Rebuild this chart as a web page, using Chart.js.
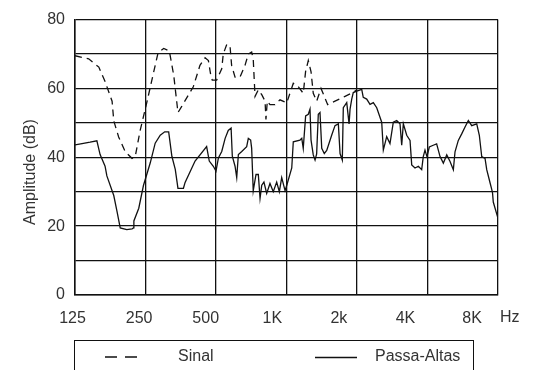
<!DOCTYPE html>
<html>
<head>
<meta charset="utf-8">
<script src="https://cdn.jsdelivr.net/npm/chart.js@4/dist/chart.umd.min.js"></script>
<style>
  html, body { margin: 0; padding: 0; background: #fff; }
  #wrap { width: 556px; height: 370px; }
</style>
</head>
<body>
<div id="wrap"><canvas id="chart" width="556" height="370"></canvas></div>
<script>
// Eixo X (Hz) e rótulos
const xTickValues = [125, 250, 500, 1000, 2000, 4000, 8000];
const xTickLabels = ["125", "250", "500", "1K", "2k", "4K", "8K"];
const yTickLabels = [0, 20, 40, 60, 80];

// Sinal (tracejado)
const sinalHz = [125, 143, 158, 168, 180, 183, 192, 205, 219, 226, 237, 254, 271, 283, 299, 316, 330, 344, 357,
  400, 427, 449, 464, 475, 482, 503, 529, 537, 556, 574, 583, 603, 633, 665, 687, 710, 721, 734, 758, 784,
  810, 817, 828, 850, 893, 938, 1002, 1069, 1123, 1179, 1207, 1239, 1273, 1301, 1345, 1404, 1450, 1499,
  1611, 1778, 1928, 1995];
const sinalDb = [69.5, 68.6, 66.2, 62, 56.3, 50.6, 45.9, 41.6, 39.7, 40.2, 47.7, 56.3, 64.8, 70.4, 71.6, 70.9, 63.8, 53, 54.8,
  60.5, 66.7, 68.9, 68.1, 63.8, 62.4, 62.4, 65.7, 70, 72.8, 72.3, 66.7, 63.3, 63.3, 66.7, 70, 70.6, 68.6, 57.7, 59.6, 58.2,
  56.3, 51, 56.3, 55.3, 55.3, 56.7, 55.8, 61.5, 60.5, 58.6, 65, 68.1, 64.8, 58.6, 56.3, 60, 57.7, 55.3,
  56.3, 57.7, 58.9, 59.6];

// Passa-Altas (contínuo)
const passaHz = [125, 134, 145, 155, 160, 168, 171, 183, 189, 195, 208, 219, 222, 223, 234, 245, 262, 275, 289, 302,
  314, 324, 335, 344, 363, 369, 407, 456, 468, 487, 500, 512, 529, 547, 564, 580, 587, 603, 613, 623,
  644, 676, 687, 703, 710, 721, 741, 758, 771, 784, 801, 823, 850, 878, 908, 932, 954, 986, 1002, 1053,
  1069, 1142, 1162, 1179, 1207, 1239, 1260, 1273, 1301, 1324, 1345, 1367, 1390, 1414, 1450, 1485, 1559, 1611, 1665, 1693,
  1731, 1748, 1808, 1850, 1868, 1899, 1928, 1995, 2095, 2127, 2200, 2273, 2348, 2428, 2550, 2591, 2678, 2766, 2858, 2955,
  3053, 3104, 3154, 3261, 3369, 3425, 3538, 3656, 3778, 3837, 3903, 3979, 4073, 4232, 4376, 4525, 4674, 4833, 4993, 5157,
  5243, 5415, 5599, 5785, 5976, 6178, 6490, 6658, 6817, 7043, 7161, 7398, 7522, 7580, 7637, 7927, 8000];
const passaDb = [43.6, 44, 44.4, 44.8, 40.8, 37.4, 34.6, 28.9, 24.2, 19.5, 19, 19.2, 19.5, 21.5, 25.2, 31.8, 38.4, 44.1, 46.4, 47.4,
  47.4, 40.3, 36.5, 31, 31, 32.7, 38.9, 43.1, 38.9, 37.4, 36, 39.8, 41.7, 45.5, 47.8, 48.5, 40.3, 37.4, 34.1, 40.8,
  41.7, 43.1, 45.5, 45, 42.6, 30.3, 35, 35, 28.1, 31.9, 32.8, 29.5, 32.4, 30, 32.8, 30, 34.1, 30.3, 31.8, 36.9,
  44.5, 45, 45.5, 42.6, 52, 52.5, 54, 45, 40.7, 39.2, 41, 52.5, 53, 42.6, 41.1, 42, 46.4, 49.2, 49.7, 41.1,
  39.2, 54.4, 55.9, 49.7, 54, 56.9, 58.8, 59.2, 59.7, 57.4, 56.9, 55.4, 55.9, 54.4, 50.2, 42.1, 46, 44, 50.2, 50.7,
  49.7, 43.5, 49.7, 46.4, 44.9, 37.8, 36.9, 37.4, 36.4, 40.2, 42.1, 40.2, 43, 43.5, 43.9, 40.2, 38.3, 40.7, 38.8, 36.4,
  41.6, 44.9, 46.8, 48.8, 50.7, 49.2, 49.7, 46.4, 40.2, 39.7, 36.4, 32.6, 30.7, 29.7, 27, 23.2, 22.3];

const toPoints = (xs, ys) => xs.map((x, i) => ({x: x, y: ys[i]}));
const FONT = "'Liberation Sans', Arial, sans-serif";
const INK = '#111';
const TXT = '#333';

// Título do eixo Y, "Hz" e legenda em caixa
const extras = {
  id: 'extras',
  afterDraw(chart) {
    const c = chart.ctx;
    c.save();
    c.fillStyle = TXT;
    c.font = "16px " + FONT;
    c.textBaseline = 'middle';
    // Hz
    c.textAlign = 'left';
    c.fillText('Hz', 500, 318);
    // título do eixo Y
    c.save();
    c.translate(31, 172);
    c.rotate(-Math.PI / 2);
    c.textAlign = 'center';
    c.fillText('Amplitude (dB)', 0, 0);
    c.restore();
    // legenda
    c.strokeStyle = INK;
    c.lineWidth = 1;
    c.strokeRect(74.5, 340.5, 399, 60);
    const ds = chart.data.datasets;
    c.lineWidth = 1.6;
    c.setLineDash([12, 8]);
    c.beginPath(); c.moveTo(105, 357); c.lineTo(138, 357); c.stroke();
    c.setLineDash([]);
    c.lineWidth = 1.4;
    c.beginPath(); c.moveTo(315, 357.5); c.lineTo(357, 357.5); c.stroke();
    c.textAlign = 'left';
    c.fillText(ds[0].label, 178, 357);
    c.fillText(ds[1].label, 375, 357);
    c.restore();
  }
};

new Chart(document.getElementById('chart'), {
  type: 'line',
  data: {
    datasets: [
      {
        label: 'Sinal',
        data: toPoints(sinalHz, sinalDb),
        borderColor: INK,
        borderWidth: 1.3,
        borderDash: [7, 5],
        pointRadius: 0,
        tension: 0,
        fill: false
      },
      {
        label: 'Passa-Altas',
        data: toPoints(passaHz, passaDb),
        borderColor: INK,
        borderWidth: 1.3,
        pointRadius: 0,
        tension: 0,
        fill: false
      }
    ]
  },
  options: {
    responsive: false,
    animation: false,
    layout: { padding: { left: 40, right: 58, top: 13, bottom: 0 } },
    plugins: {
      legend: { display: false },
      tooltip: { enabled: false }
    },
    scales: {
      x: {
        type: 'logarithmic',
        min: 125,
        max: 8000,
        afterBuildTicks: (s) => { s.ticks = xTickValues.map(v => ({value: v})); },
        afterFit: (s) => { s.height = 0; },
        ticks: { display: false },
        grid: { color: INK, lineWidth: 1.3, drawTicks: false },
        border: { color: INK, width: 1.5 }
      },
      // eixo só para os rótulos (no original ficam um pouco à esquerda das linhas)
      xl: {
        type: 'linear',
        position: 'bottom',
        min: 0.0375,
        max: 6.389,
        afterBuildTicks: (s) => { s.ticks = xTickLabels.map((t, i) => ({value: i})); },
        afterFit: (s) => { s.height = 75; },
        ticks: {
          autoSkip: false,
          maxRotation: 0,
          padding: 14,
          color: TXT,
          font: { family: FONT, size: 16 },
          callback: (v) => xTickLabels[v]
        },
        grid: { display: false, drawTicks: false },
        border: { display: false }
      },
      y: {
        min: 0,
        max: 80,
        afterFit: (s) => { s.width = 35; },
        ticks: {
          stepSize: 10,
          padding: 10,
          color: TXT,
          font: { family: FONT, size: 16 },
          callback: (v) => yTickLabels.includes(v) ? String(v) : ''
        },
        grid: { color: INK, lineWidth: 1.3, drawTicks: false },
        border: { color: INK, width: 1.5 }
      }
    }
  },
  plugins: [extras]
});
</script>
</body>
</html>
